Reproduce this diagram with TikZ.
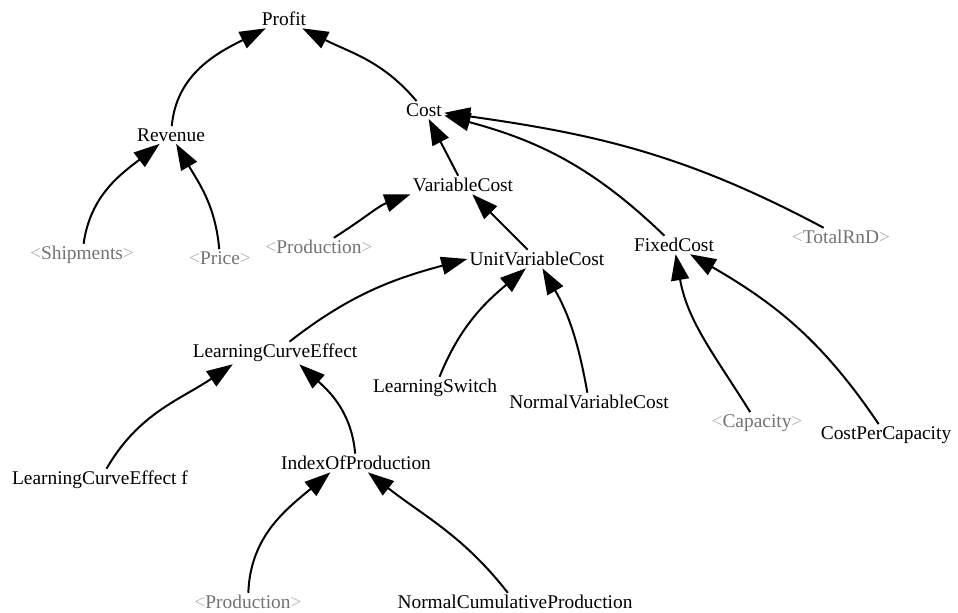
\documentclass[tikz,border=0pt]{standalone}
\usepackage{fontspec}
\setmainfont{Liberation Serif}
\usepackage{tikz}
\usetikzlibrary{arrows.meta}

\newcommand{\shadowvar}[1]{{\color{black!30}<}#1{\color{black!30}>}}

\begin{document}
\begin{tikzpicture}[x=0.5pt,y=-0.5pt,
	var/.style={inner sep=1pt,font=\fontsize{9.7}{11}\selectfont},
	ghost/.style={var,text=black!55},
	link/.style={line width=1pt,-{Triangle[length=13pt,width=9pt]}}]
	  \useasboundingbox (0,0) rectangle (958,613);
	  \node (profit) [var] at (284,19) {Profit};
	  \node (revenue) [var] at (171,135) {Revenue};
	  \node (cost) [var] at (424,110) {Cost};
	  \node (varcost) [var] at (463,185) {VariableCost};
	  \node (shipments) [ghost] at (82,255) {\shadowvar{Shipments}};
	  \node (price) [ghost] at (220,258) {\shadowvar{Price}};
	  \node (prod1) [ghost] at (319,247) {\shadowvar{Production}};
	  \node (unitvarcost) [var] at (537,259) {UnitVariableCost};
	  \node (fixedcost) [var] at (674,245) {FixedCost};
	  \node (totalrnd) [ghost] at (841,237) {\shadowvar{TotalRnD}};
	  \node (lce) [var] at (275,353) {LearningCurveEffect};
	  \node (lswitch) [var] at (435,388) {LearningSwitch};
	  \node (nvc) [var] at (589,402) {NormalVariableCost};
	  \node (capacity) [ghost] at (757,423) {\shadowvar{Capacity}};
	  \node (costpercap) [var] at (886,435) {CostPerCapacity};
	  \node (lcef) [var] at (100,480) {LearningCurveEffect f};
	  \node (iop) [var] at (356,463) {IndexOfProduction};
	  \node (prod2) [ghost] at (248,602) {\shadowvar{Production}};
	  \node (ncp) [var] at (515,602) {NormalCumulativeProduction};

	  \draw [link] (revenue) to[out=85,in=207] (profit);
	  \draw [link] (cost) to[out=130,in=-27] (profit);
	  \draw [link] (shipments) to[out=82,in=218] (revenue);
	  \draw [link] (price) to[out=95,in=-60] (revenue);
	  \draw [link] (varcost) -- (cost);
	  \draw [link] (prod1) to[out=32,in=200] (varcost.south west);
	  \draw [link] (unitvarcost) -- (varcost);
	  \draw [link] (fixedcost) to[out=136,in=-15] (cost);
	  \draw [link] (totalrnd) to[out=152,in=-8] (cost);
	  \draw [link] (lce) to[out=38,in=195] (unitvarcost.west);
	  \draw [link] (lswitch) to[out=68,in=220] (unitvarcost);
	  \draw [link] (nvc) to[out=100,in=-60] (unitvarcost);
	  \draw [link] (capacity) to[out=122,in=-80] (fixedcost);
	  \draw [link] (costpercap) to[out=124,in=-30] (fixedcost);
	  \draw [link] (lcef) to[out=60,in=214] (lce.195);
	  \draw [link] (iop) to[out=95,in=-42] (lce.-25);
	  \draw [link] (prod2) to[out=88,in=220] (iop.200);
	  \draw [link] (ncp) to[out=128,in=-38] (iop);
	\end{tikzpicture}
\end{document}
